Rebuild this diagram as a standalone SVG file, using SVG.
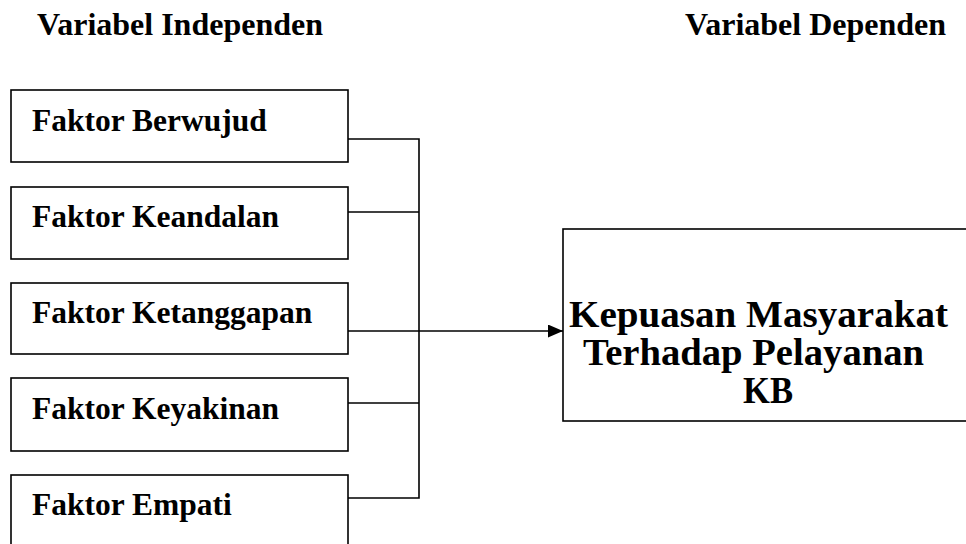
<svg xmlns="http://www.w3.org/2000/svg" width="966" height="544" viewBox="0 0 966 544">
<style>
  .box { fill: #ffffff; stroke: #000000; stroke-width: 1.6; }
  .lbl { font-family: "Liberation Serif", "Times New Roman", serif; font-weight: bold; fill: #000000; }
  .f { font-size: 31.5px; }
  .h { font-size: 32px; }
  .k { font-size: 37px; }
  .conn { fill: none; stroke: #000000; stroke-width: 1.6; }
</style>
<defs>
  <marker id="arrow" markerUnits="userSpaceOnUse" markerWidth="15" markerHeight="13" refX="15" refY="6.5" orient="auto">
    <path d="M0,0 L15,6.5 L0,13 Z" fill="#000000"/>
  </marker>
</defs>
<rect width="966" height="544" fill="#ffffff"/>
<g id="headers">
  <text class="lbl h" x="37" y="35">Variabel Independen</text>
  <text class="lbl h" x="685" y="35">Variabel Dependen</text>
</g>
<g id="node-berwujud">
  <rect class="box" x="11" y="90" width="337" height="72"/>
  <text class="lbl f" x="32" y="131">Faktor Berwujud</text>
</g>
<g id="node-keandalan">
  <rect class="box" x="11" y="187" width="337" height="72"/>
  <text class="lbl f" x="32" y="227">Faktor Keandalan</text>
</g>
<g id="node-ketanggapan">
  <rect class="box" x="11" y="283" width="337" height="71"/>
  <text class="lbl f" x="32" y="323">Faktor Ketanggapan</text>
</g>
<g id="node-keyakinan">
  <rect class="box" x="11" y="378" width="337" height="73"/>
  <text class="lbl f" x="32" y="419">Faktor Keyakinan</text>
</g>
<g id="node-empati">
  <rect class="box" x="11" y="475" width="337" height="73"/>
  <text class="lbl f" x="32" y="515">Faktor Empati</text>
</g>
<g id="node-kepuasan">
  <rect class="box" x="563" y="229" width="410" height="192"/>
  <text class="lbl k" x="569" y="327" textLength="379" lengthAdjust="spacingAndGlyphs">Kepuasan Masyarakat</text>
  <text class="lbl k" x="583" y="365" textLength="341" lengthAdjust="spacingAndGlyphs">Terhadap Pelayanan</text>
  <text class="lbl k" x="743" y="403" textLength="50" lengthAdjust="spacingAndGlyphs">KB</text>
</g>
<g id="connectors">
  <polyline class="conn" points="348,139 419,139 419,498 348,498"/>
  <line class="conn" x1="348" y1="212" x2="419" y2="212"/>
  <line class="conn" x1="348" y1="403" x2="419" y2="403"/>
  <line class="conn" x1="348" y1="331" x2="563" y2="331" marker-end="url(#arrow)"/>
</g>
</svg>
